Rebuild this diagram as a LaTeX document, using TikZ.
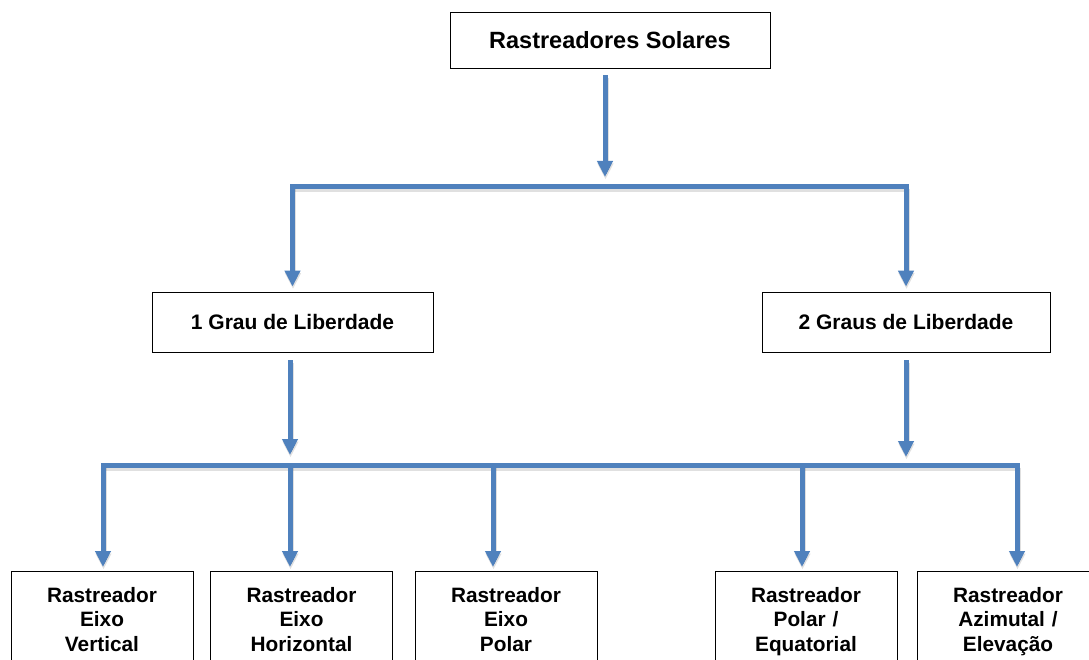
\documentclass[tikz,border=0pt]{standalone}
\usepackage{fontspec}
\setmainfont{Liberation Sans}
\usetikzlibrary{arrows.meta}
\definecolor{linkblue}{RGB}{79,129,189}
\begin{document}
\begin{tikzpicture}[x=1pt,y=-1pt,
  box/.style={draw=black, line width=0.8pt, inner sep=0pt},
  topbox/.style={box, minimum width=320pt, minimum height=56pt,
    font=\fontsize{23.5}{28}\selectfont\bfseries},
  midbox/.style={box, minimum height=60pt,
    font=\fontsize{21}{25}\selectfont\bfseries},
  leafbox/.style={box, anchor=north, minimum width=182pt, text width=170pt,
    inner ysep=16pt, align=center,
    font=\fontsize{20.8}{24.5}\selectfont\bfseries},
  softshadow/.style={preaction={draw=black, draw opacity=0.12, line width=6pt,
    transform canvas={yshift=-2.5pt, xshift=0.5pt}}},
  bar/.style={softshadow, draw=linkblue, line width=5pt, line cap=rect},
  arrow/.style={softshadow, draw=linkblue, line width=5pt,
    -{Triangle[length=16pt,width=15pt]}},
]
\useasboundingbox (0,0) rectangle (1089,660);
\clip (0,0) rectangle (1089,660);

% boxes
\node[topbox] (root) at (610,40) {Rastreadores Solares};
\node[midbox, minimum width=281pt] (one) at (292.5,322) {1 Grau de Liberdade};
\node[midbox, minimum width=288pt] (two) at (906,322) {2 Graus de Liberdade};

\node[leafbox] (vert)  at (102,571)   {Rastreador\\Eixo\\Vertical};
\node[leafbox] (horiz) at (301.5,571) {Rastreador\\Eixo\\Horizontal};
\node[leafbox] (polar) at (506,571)   {Rastreador\\Eixo\\Polar};
\node[leafbox] (equat) at (806,571)   {Rastreador\\Polar /\\Equatorial};
\node[leafbox] (azim)  at (1008,571)  {Rastreador\\Azimutal /\\Elevação};

% first level of connectors
\coordinate (j1) at (605,187);
\draw[bar] (j1 -| one.north) -- (j1 -| two.north);
\draw[arrow] ([yshift=-7pt]root.south -| j1) -- ([yshift=10pt]j1);
\draw[arrow, shorten >=5pt] (j1 -| one.north) -- (one.north);
\draw[arrow, shorten >=5pt] (j1 -| two.north) -- (two.north);

% second level of connectors
\coordinate (d1) at (103,465);
\coordinate (d2) at (290,465);
\coordinate (d3) at (493,465);
\coordinate (d4) at (802,465);
\coordinate (d5) at (1017,465);
\draw[bar] (d1) -- (d5);
\draw[arrow] ([yshift=-8pt]one.south -| d2) -- ([yshift=10pt]d2);
\draw[arrow] ([yshift=-8pt]two.south) -- ([yshift=8pt]two.south |- d5);
\draw[arrow, shorten >=4pt] (d1) -- (d1 |- vert.north);
\draw[arrow, shorten >=4pt] (d2) -- (d2 |- horiz.north);
\draw[arrow, shorten >=4pt] (d3) -- (d3 |- polar.north);
\draw[arrow, shorten >=4pt] (d4) -- (d4 |- equat.north);
\draw[arrow, shorten >=4pt] (d5) -- (d5 |- azim.north);
\end{tikzpicture}
\end{document}
